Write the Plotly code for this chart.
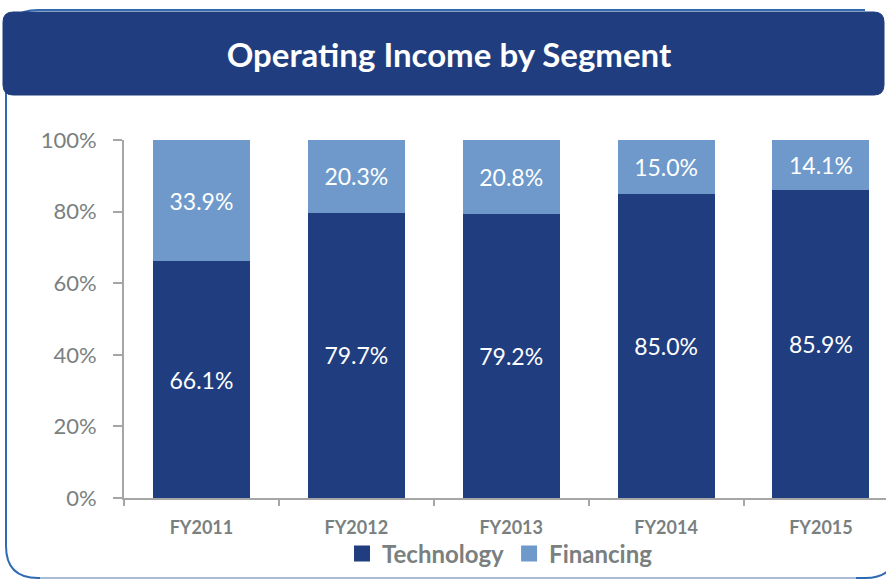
import plotly.graph_objects as go

categories = ["FY2011", "FY2012", "FY2013", "FY2014", "FY2015"]
technology = [66.1, 79.7, 79.2, 85.0, 85.9]
financing = [33.9, 20.3, 20.8, 15.0, 14.1]
y_ticks = [0, 20, 40, 60, 80, 100]
y_tick_labels = ["0%", "20%", "40%", "60%", "80%", "100%"]
title_text = "Operating Income by Segment"

W, H = 886, 580
ML, MR, MT, MB = 124, 0, 140, 82
PW = W - ML - MR
PH = H - MT - MB

def xp(px):
    return (px - ML) / PW

def yp(py):
    return (H - MB - py) / PH

def rrect(x0, y0, x1, y1, r):
    pts = [
        f"M {xp(x0 + r)} {yp(y0)}",
        f"L {xp(x1 - r)} {yp(y0)}",
        f"Q {xp(x1)} {yp(y0)} {xp(x1)} {yp(y0 + r)}",
        f"L {xp(x1)} {yp(y1 - r)}",
        f"Q {xp(x1)} {yp(y1)} {xp(x1 - r)} {yp(y1)}",
        f"L {xp(x0 + r)} {yp(y1)}",
        f"Q {xp(x0)} {yp(y1)} {xp(x0)} {yp(y1 - r)}",
        f"L {xp(x0)} {yp(y0 + r)}",
        f"Q {xp(x0)} {yp(y0)} {xp(x0 + r)} {yp(y0)}",
        "Z",
    ]
    return " ".join(pts)

def open_frame(x0, y0, x1, y1, r):
    # frame without its right-hand vertical side (that lies off-canvas)
    pts = [
        f"M {xp(x1 - r)} {yp(y0)}",
        f"L {xp(x0 + r)} {yp(y0)}",
        f"Q {xp(x0)} {yp(y0)} {xp(x0)} {yp(y0 + r)}",
        f"L {xp(x0)} {yp(y1 - r)}",
        f"Q {xp(x0)} {yp(y1)} {xp(x0 + r)} {yp(y1)}",
        f"L {xp(x1 - r)} {yp(y1)}",
        f"Q {xp(x1)} {yp(y1)} {xp(x1)} {yp(y1 - r)}",
    ]
    return " ".join(pts)

FONT = "Lato, 'Open Sans', sans-serif"
DARK = "#203E7F"
LIGHT = "#6E99CA"
GREY = "#7A7F80"
AXIS = "#A6A6A6"

fig = go.Figure()
fig.add_trace(go.Bar(
    x=categories, y=technology, name="Technology", showlegend=False,
    marker=dict(color=DARK, line=dict(width=0)),
    text=[f"{v:.1f}%" for v in technology],
    textposition="inside", insidetextanchor="middle", textangle=0,
    textfont=dict(color="white", size=23, family=FONT),
))
fig.add_trace(go.Bar(
    x=categories, y=financing, name="Financing", showlegend=False,
    marker=dict(color=LIGHT, line=dict(width=0)),
    text=[f"{v:.1f}%" for v in financing],
    textposition="inside", insidetextanchor="middle", textangle=0,
    textfont=dict(color="white", size=23, family=FONT),
))
for name, col in [("Technology", DARK), ("Financing", LIGHT)]:
    fig.add_trace(go.Scatter(
        x=[None], y=[None], mode="markers", name=f"<b>{name}</b>",
        marker=dict(symbol="square", size=17, color=col), hoverinfo="skip",
    ))

shapes = [
    dict(type="path", xref="paper", yref="paper", layer="below",
         path=open_frame(6, 10, 897, 578, 32),
         line=dict(color="#2F6AB3", width=2), fillcolor="rgba(0,0,0,0)"),
    dict(type="line", xref="paper", yref="paper", layer="below",
         x0=xp(40), x1=xp(856), y0=yp(578), y1=yp(578),
         line=dict(color="#A9BCD6", width=2)),
    dict(type="path", xref="paper", yref="paper", layer="below",
         path=rrect(3, 12, 884, 95, 10),
         line=dict(color=DARK, width=1), fillcolor=DARK),
]

fig.update_layout(
    width=W, height=H,
    margin=dict(l=ML, r=MR, t=MT, b=MB, pad=0),
    paper_bgcolor="white", plot_bgcolor="white",
    barmode="stack", bargap=0.374,
    font=dict(family=FONT, color=GREY),
    title=dict(text=f"<b>{title_text}</b>", x=449 / W, xref="container",
               xanchor="center", y=1 - 55 / H, yref="container", yanchor="middle",
               font=dict(size=33, color="white", family=FONT)),
    showlegend=True,
    legend=dict(orientation="h", x=xp(500), xanchor="center", y=yp(554),
                yanchor="middle", font=dict(size=24, color=GREY, family=FONT),
                traceorder="normal", itemwidth=30, bgcolor="rgba(0,0,0,0)",
                itemclick=False, itemdoubleclick=False),
    xaxis=dict(type="category", range=[-0.5, 4.42], showgrid=False,
               showline=True, linecolor=AXIS, linewidth=2,
               ticks="outside", tickson="boundaries", ticklen=6, tickcolor=AXIS,
               tickwidth=2, ticklabelstandoff=12,
               tickfont=dict(size=18, color=GREY, family=FONT), tickprefix="<b>",
               ticksuffix="</b>"),
    yaxis=dict(range=[0, 100], tickvals=y_ticks, ticktext=y_tick_labels,
               showgrid=False,
               showline=True, linecolor=AXIS, linewidth=2, zeroline=False,
               ticks="outside", ticklen=9, tickcolor=AXIS, tickwidth=2,
               ticklabelstandoff=12,
               tickfont=dict(size=22, color=GREY, family=FONT)),
    shapes=shapes,
)
fig.write_html("out.html", config={"displayModeBar": False},
               post_script="document.body.style.margin='0';document.body.style.overflow='hidden';")
